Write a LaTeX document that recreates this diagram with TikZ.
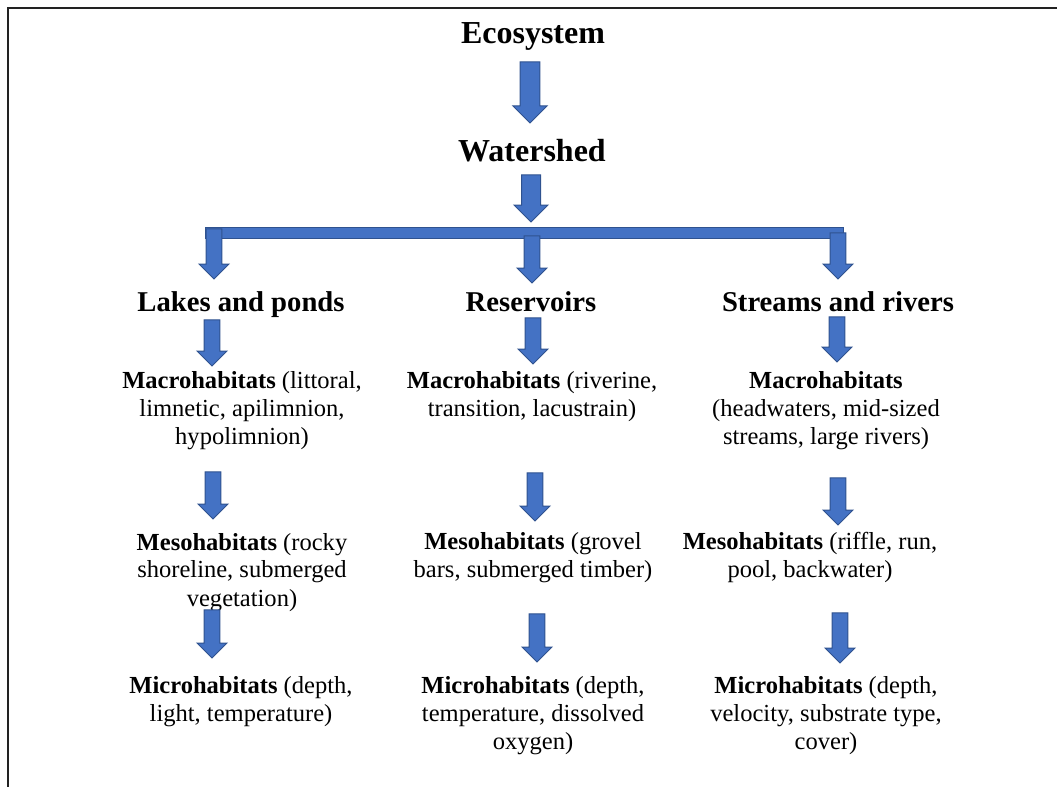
\documentclass[tikz,border=0pt]{standalone}
\usepackage{fontspec}
\setmainfont{Liberation Serif}
\usetikzlibrary{shapes.arrows}
\definecolor{arrowfill}{HTML}{4472C4}
\definecolor{arrowedge}{HTML}{2F528F}
\definecolor{framegray}{HTML}{222222}
\tikzstyle{toptext} = [font=\fontsize{24}{28}\selectfont\bfseries, anchor=base, inner sep=0pt]
\tikzstyle{headtext} = [font=\fontsize{21.5}{26}\selectfont\bfseries, anchor=base, inner sep=0pt]
\tikzstyle{habitat} = [font=\fontsize{18.4}{21}\selectfont, align=center, anchor=base, inner sep=0pt]
\tikzstyle{bigarrow} = [single arrow, rotate=-90, anchor=tail, draw=arrowedge, fill=arrowfill, line width=0.75pt, inner xsep=0pt, inner ysep=7pt, single arrow head extend=5.5pt, outer sep=0pt]
\tikzstyle{smallarrow} = [bigarrow, inner ysep=5.6pt, single arrow head extend=5.25pt]
\begin{document}
\begin{tikzpicture}[x=0.75pt, y=-0.75pt]
    \useasboundingbox (0,0) rectangle (1057,787);
    \draw [framegray, line width=1.5pt] (7.5,787) -- (7.5,8.5) -- (1057,8.5);

    \node (ecosystem) [toptext] at (533,44) {Ecosystem};
    \node (watershed) [toptext] at (532,162) {Watershed};
    \node (lakes) [headtext] at (241,312) {Lakes and ponds};
    \node (reservoirs) [headtext] at (531,312) {Reservoirs};
    \node (streams) [headtext] at (838,312) {Streams and rivers};

    \node (lakesMacro) [habitat] at (242,445) {\textbf{Macrohabitats} (littoral,\\ limnetic, apilimnion,\\ hypolimnion)};
    \node (lakesMeso) [habitat] at (242,606) {\textbf{Mesohabitats} (rocky\\ shoreline, submerged\\ vegetation)};
    \node (lakesMicro) [habitat] at (241,721) {\textbf{Microhabitats} (depth,\\ light, temperature)};
    \node (resMacro) [habitat] at (532,417) {\textbf{Macrohabitats} (riverine,\\ transition, lacustrain)};
    \node (resMeso) [habitat] at (533,578) {\textbf{Mesohabitats} (grovel\\ bars, submerged timber)};
    \node (resMicro) [habitat] at (533,749) {\textbf{Microhabitats} (depth,\\ temperature, dissolved\\ oxygen)};
    \node (streamsMacro) [habitat] at (826,445) {\textbf{Macrohabitats}\\ (headwaters, mid-sized\\ streams, large rivers)};
    \node (streamsMeso) [habitat] at (810,578) {\textbf{Mesohabitats} (riffle, run,\\ pool, backwater)};
    \node (streamsMicro) [habitat] at (826,749) {\textbf{Microhabitats} (depth,\\ velocity, substrate type,\\ cover)};

    \node (ecoArrow) [bigarrow, minimum height=45.75pt] at (530,62) {};
    \node (shedArrow) [bigarrow, inner ysep=6.75pt, minimum height=35.25pt] at (531,175) {};
    \draw [arrowedge, fill=arrowfill, line width=0.75pt] (205,228) rectangle (843,239);
    \node (lakesArrow) [smallarrow, minimum height=37.5pt] at (214,229) {};
    \node (resArrow) [smallarrow, minimum height=35.25pt] at (532,236) {};
    \node (streamsArrow) [smallarrow, minimum height=34.5pt] at (838,233) {};

    \node (lakesDown1) [smallarrow, minimum height=34.5pt] at (212,320) {};
    \node (lakesDown2) [smallarrow, minimum height=35.25pt] at (213,472) {};
    \node (lakesDown3) [smallarrow, minimum height=36pt] at (212,610) {};
    \node (resDown1) [smallarrow, minimum height=34.5pt] at (533,318) {};
    \node (resDown2) [smallarrow, minimum height=36pt] at (535,473) {};
    \node (resDown3) [smallarrow, minimum height=36pt] at (537,614) {};
    \node (streamsDown1) [smallarrow, minimum height=33.75pt] at (837,317) {};
    \node (streamsDown2) [smallarrow, minimum height=35.25pt] at (838,478) {};
    \node (streamsDown3) [smallarrow, minimum height=37.5pt] at (840,613) {};
\end{tikzpicture}
\end{document}
